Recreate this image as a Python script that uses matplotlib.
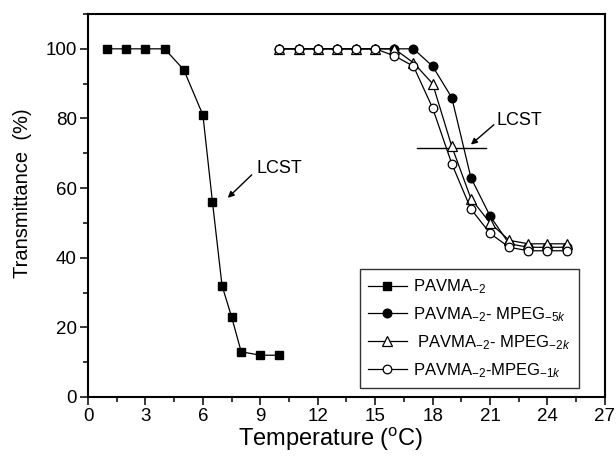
import matplotlib
matplotlib.use("Agg")
import matplotlib.pyplot as plt
from matplotlib.ticker import MultipleLocator

plt.rcParams['font.family'] = ['Liberation Sans', 'DejaVu Sans']
plt.rcParams['mathtext.fontset'] = 'custom'
plt.rcParams['mathtext.rm'] = 'Liberation Sans'
plt.rcParams['mathtext.it'] = 'Liberation Sans:italic'
plt.rcParams['mathtext.bf'] = 'Liberation Sans:bold'

# Data
x_pavma = [1, 2, 3, 4, 5, 6, 6.5, 7, 7.5, 8, 9, 10]
y_pavma = [100, 100, 100, 100, 94, 81, 56, 32, 23, 13, 12, 12]

x_mpeg = [10, 11, 12, 13, 14, 15, 16, 17, 18, 19, 20, 21, 22, 23, 24, 25]
y_5k = [100, 100, 100, 100, 100, 100, 100, 100, 95, 86, 63, 52, 44, 43, 43, 43]
y_2k = [100, 100, 100, 100, 100, 100, 100, 96, 90, 72, 57, 50, 45, 44, 44, 44]
y_1k = [100, 100, 100, 100, 100, 100, 98, 95, 83, 67, 54, 47, 43, 42, 42, 42]

labels = [r'PAVMA$_{\mathit{-2}}$',
          r'PAVMA$_{\mathit{-2}}$- MPEG$_{\mathit{-5k}}$',
          r' PAVMA$_{\mathit{-2}}$- MPEG$_{\mathit{-2k}}$',
          r'PAVMA$_{\mathit{-2}}$-MPEG$_{\mathit{-1k}}$']

x_ticks = list(range(0, 28, 3))
y_ticks = list(range(0, 101, 20))

# annotation anchors (data units)
lcst_line_x = (17.2, 20.8)
lcst_line_y = 71.5
lcst_right_text = (21.35, 79.5)
lcst_right_tail = (21.2, 78.2)
lcst_right_head = (20.0, 72.5)
lcst_left_text = (8.82, 65.5)
lcst_left_tail = (8.55, 63.8)
lcst_left_head = (7.3, 57.2)

fig = plt.figure(figsize=(6.16, 4.58), dpi=100)
ax = fig.add_axes([0.1429, 0.1332, 0.8391, 0.8362])

lw = 0.9
ax.plot(x_pavma, y_pavma, color='black', lw=lw, marker='s', ms=6.2,
        mfc='black', mec='black', label=labels[0], zorder=3)
ax.plot(x_mpeg, y_5k, color='black', lw=lw, marker='o', ms=6.2,
        mfc='black', mec='black', label=labels[1], zorder=3)
ax.plot(x_mpeg, y_2k, color='black', lw=lw, marker='^', ms=6.8,
        mfc='white', mec='black', mew=0.9, label=labels[2], zorder=4)
ax.plot(x_mpeg, y_1k, color='black', lw=lw, marker='o', ms=6.2,
        mfc='white', mec='black', mew=0.9, label=labels[3], zorder=5)

ax.set_xlim(0, 27)
ax.set_ylim(0, 110)
ax.set_xticks(x_ticks)
ax.set_yticks(y_ticks)
ax.xaxis.set_minor_locator(MultipleLocator(1.5))
ax.yaxis.set_minor_locator(MultipleLocator(10))
ax.tick_params(which='major', direction='out', length=6, width=1.1,
               labelsize=13.5, top=False, right=False, pad=2)
ax.tick_params(which='minor', direction='out', length=3.5, width=1.1,
               top=False, right=False)
for s in ax.spines.values():
    s.set_linewidth(1.5)

ax.set_xlabel(r'Temperature ($^{\rm o}$C)', fontsize=17)
ax.xaxis.set_label_coords(0.47, -0.075)
ax.set_ylabel('Transmittance  (%)', fontsize=14.5)
ax.yaxis.set_label_coords(-0.108, 0.533)

# LCST annotations
ax.plot(lcst_line_x, [lcst_line_y, lcst_line_y], color='black', lw=1.0, zorder=2)
ax.text(*lcst_right_text, 'LCST', fontsize=13, ha='left', va='center')
ax.annotate('', xy=lcst_right_head, xytext=lcst_right_tail,
            arrowprops=dict(arrowstyle='-|>', color='black', lw=1.0,
                            mutation_scale=9, shrinkA=0, shrinkB=0))
ax.text(*lcst_left_text, 'LCST', fontsize=13, ha='left', va='center')
ax.annotate('', xy=lcst_left_head, xytext=lcst_left_tail,
            arrowprops=dict(arrowstyle='-|>', color='black', lw=1.0,
                            mutation_scale=9, shrinkA=0, shrinkB=0))

leg = ax.legend(loc='upper left', bbox_to_anchor=(0.526, 0.334),
                fontsize=12, frameon=True, fancybox=False, edgecolor='black',
                handlelength=2.3, handletextpad=0.4, labelspacing=0.55,
                borderpad=0.5, borderaxespad=0)
leg.get_frame().set_linewidth(1.0)

fig.savefig('out.png', dpi=100)
